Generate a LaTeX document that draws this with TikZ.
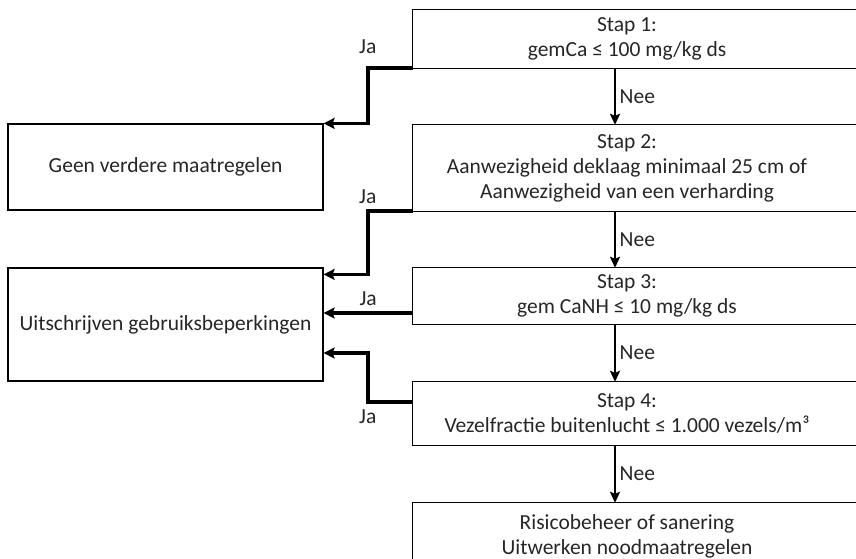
\documentclass[tikz,border=0pt]{standalone}
\usepackage{fontspec}
\setmainfont{Carlito}
\usetikzlibrary{arrows.meta}
\tikzset{
  stepbox/.style={minimum width=428pt, inner sep=0pt, align=center},
  endbox/.style={draw, line width=1.2pt, minimum width=315pt, inner sep=0pt, align=center},
  jaarrow/.style={-{Stealth[length=11pt,width=11pt,inset=2pt]}, line width=3.8pt},
  neearrow/.style={-{Stealth[length=11pt,width=10pt,inset=2pt]}, line width=2.8pt},
}

\begin{document}
\begin{tikzpicture}[x=1pt,y=-1pt,font=\fontsize{21.5}{25}\selectfont,text=black!85]

        \useasboundingbox (0,0) rectangle (856,558);

        % Steps
        \node[stepbox, minimum height=58pt] (s1) at (627,39) {Stap 1:\\gemCa ≤ 100 mg/kg ds};
        \node[stepbox, minimum height=86pt] (s2) at (627,168) {Stap 2:\\Aanwezigheid deklaag minimaal 25 cm of\\Aanwezigheid van een verharding};
        \node[stepbox, minimum height=56pt] (s3) at (627,296) {Stap 3:\\gem CaNH ≤ 10 mg/kg ds};
        \node[stepbox, minimum height=63pt] (s4) at (627,413.5) {Stap 4:\\Vezelfractie buitenlucht ≤ 1.000 vezels/m³};
        \node[stepbox, minimum height=66pt] (s5) at (627,536) {Risicobeheer of sanering\\Uitwerken noodmaatregelen};

        % boxes run on past the right edge
        \foreach \s in {s1,s2,s3,s4,s5}
            \draw[line width=1.2pt] (\s.north west) rectangle ([xshift=40pt]\s.south east);

        % Outcomes
        \node[endbox, minimum height=86pt] (geen) at (165.5,167) {Geen verdere maatregelen};
        \node[endbox, minimum height=113pt] (uit) at (165.5,324.5) {Uitschrijven gebruiksbeperkingen};

        % Nee
        \draw[neearrow] ([xshift=-12pt]s1.south) -- node[right]{Nee} ([xshift=-12pt]s2.north);
        \draw[neearrow] ([xshift=-12pt]s2.south) -- node[right]{Nee} ([xshift=-12pt]s3.north);
        \draw[neearrow] ([xshift=-12pt]s3.south) -- node[right]{Nee} ([xshift=-12pt]s4.north);
        \draw[neearrow] ([xshift=-12pt]s4.south) -- node[right]{Nee} ([xshift=-12pt]s5.north);

        % Ja
        \draw[jaarrow] (s1.south west) -- ++(-45,0) node[above=9pt]{Ja} |- (geen.north east);
        \draw[jaarrow] (s2.south west) -- ++(-45,0) node[above=2pt]{Ja} |- ([yshift=-7pt]uit.north east);
        \draw[jaarrow] ([yshift=-17pt]s3.west) -- node[above=2pt]{Ja} ([yshift=-17pt]s3.west -| uit.east);
        \draw[jaarrow] ([yshift=11.5pt]s4.west) -- ++(-45,0) node[below=2pt]{Ja} |- ([yshift=-28.5pt]uit.east);

\end{tikzpicture}
\end{document}
